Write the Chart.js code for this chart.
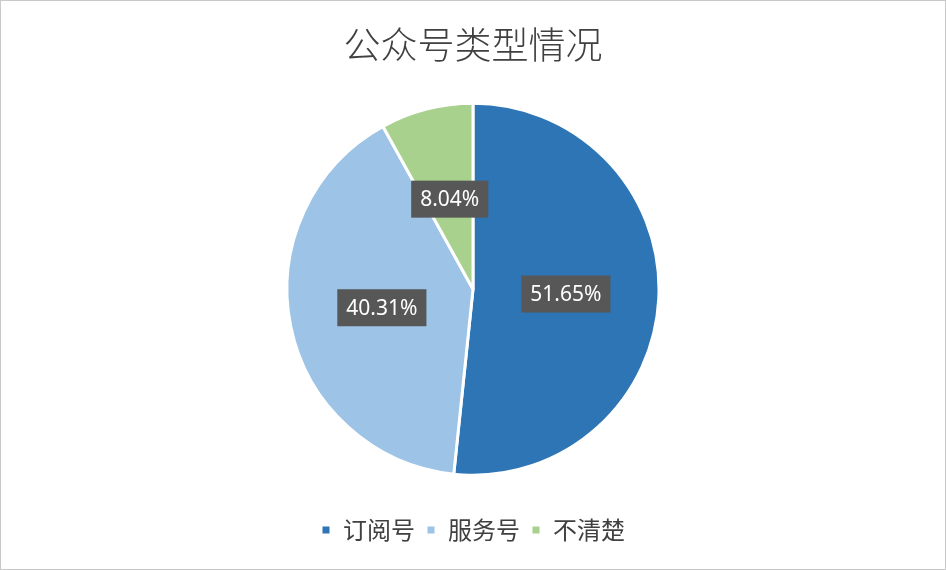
<!DOCTYPE html>
<html>
<head>
<meta charset="utf-8">
<script src="https://cdn.jsdelivr.net/npm/chart.js@4/dist/chart.umd.min.js"></script>
<style>
  html, body { margin: 0; padding: 0; background: #fff; }
  #myChart { display: block; outline: 1px solid #c9c9c9; outline-offset: -1px; }
</style>
</head>
<body>
<canvas id="myChart" width="946" height="570"></canvas>
<script>
var titleText = "公众号类型情况";
var categories = ["订阅号", "服务号", "不清楚"];
var shares = [51.65, 40.31, 8.04];
var sliceColors = ["#2E75B6", "#9DC3E6", "#A9D18E"];

// draws the dark value boxes in the middle of each slice
var valueBoxes = {
    id: 'valueBoxes',
    afterDatasetsDraw: function(chart){
        var ctx = chart.ctx;
        var meta = chart.getDatasetMeta(0);
        ctx.save();
        ctx.font = '21px "Noto Sans", "DejaVu Sans", sans-serif';
        ctx.textAlign = 'center';
        ctx.textBaseline = 'middle';
        meta.data.forEach(function(arc, i){
            var p = arc.getCenterPoint();
            var text = shares[i].toFixed(2) + '%';
            var w = ctx.measureText(text).width + 18;
            var h = 37;
            ctx.fillStyle = '#575757';
            ctx.fillRect(p.x - w / 2, p.y - h / 2, w, h);
            ctx.fillStyle = '#ffffff';
            ctx.fillText(text, p.x, p.y + 1);
        });
        ctx.restore();
    }
};

var ctx = document.getElementById("myChart").getContext('2d');
var typeChart = new Chart(ctx, {
    type: 'pie',
    data: {
        labels: categories,
        datasets: [{
            data: shares,
            backgroundColor: sliceColors,
            borderColor: '#ffffff',
            borderWidth: 3,
            hoverOffset: 0
        }]
    },
    options: {
        responsive: false,
        animation: false,
        radius: 186,
        layout: { padding: { top: 0, bottom: 18, left: 0, right: 0 } },
        plugins: {
            title: {
                display: true,
                text: titleText,
                color: '#404040',
                font: { family: '"Noto Sans CJK SC", sans-serif', size: 37, weight: '300', lineHeight: 1.2 },
                padding: { top: 22.8, bottom: 4.2 }
            },
            legend: {
                position: 'bottom',
                labels: {
                    color: '#404040',
                    font: { family: '"Noto Sans CJK SC", sans-serif', size: 24 },
                    boxWidth: 10,
                    boxHeight: 10,
                    padding: 11
                }
            },
            tooltip: { enabled: false }
        }
    },
    plugins: [valueBoxes]
});
</script>
</body>
</html>
